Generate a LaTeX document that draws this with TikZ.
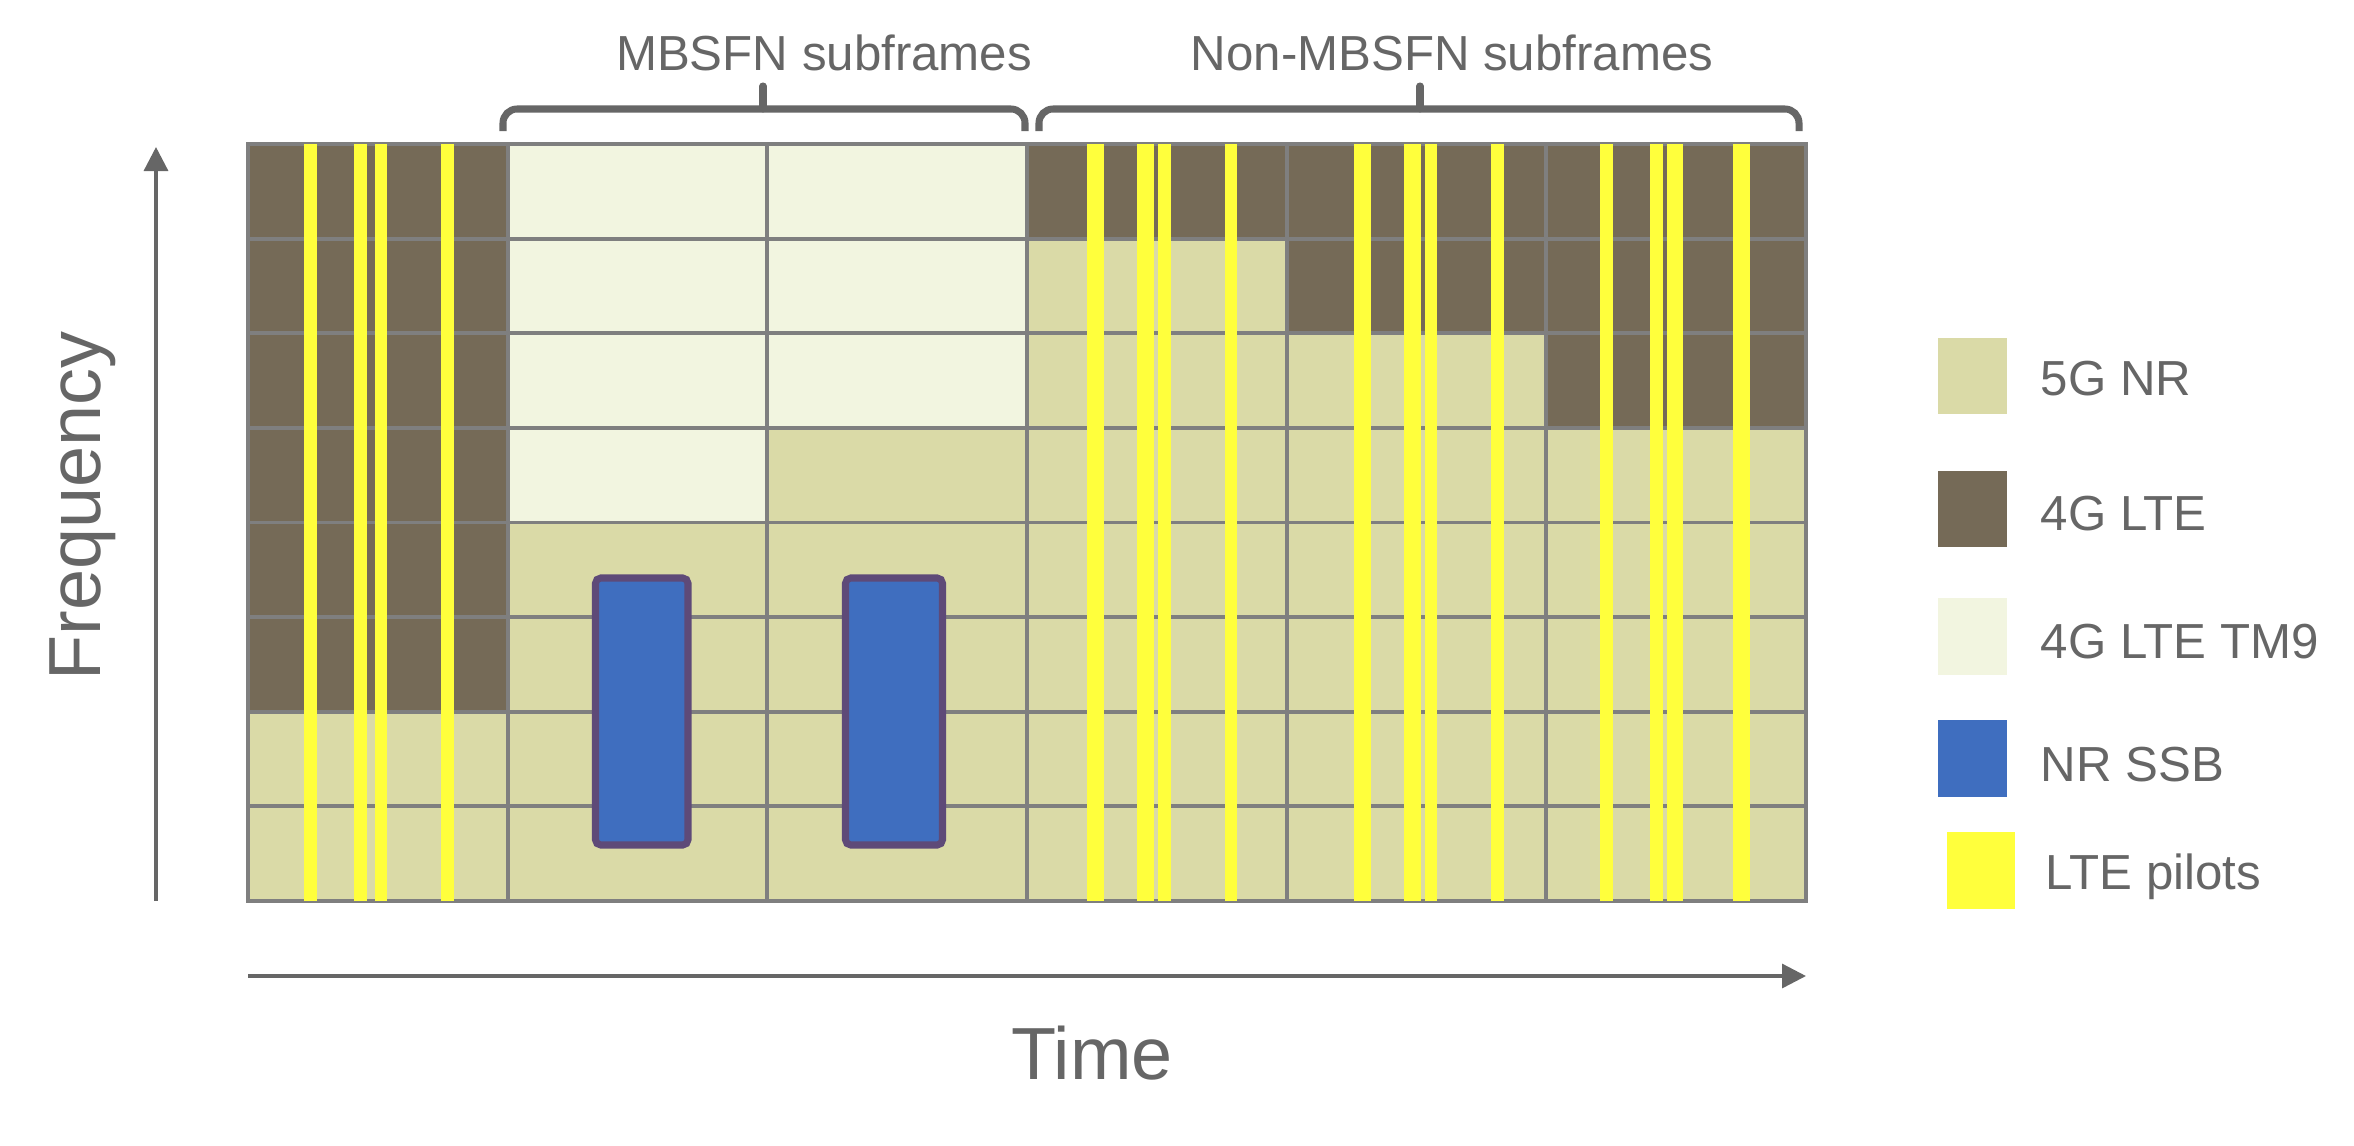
\documentclass[tikz,border=0pt]{standalone}
\usepackage{fontspec}
\setmainfont{Liberation Sans}
\usetikzlibrary{arrows.meta}
\definecolor{nrgreen}{HTML}{DADAA7}
\definecolor{ltebrown}{HTML}{756A57}
\definecolor{tmnine}{HTML}{F2F5E0}
\definecolor{ssbblue}{HTML}{3F6EBF}
\definecolor{ssbedge}{HTML}{5E4A78}
\definecolor{pilotyellow}{HTML}{FFFF3C}
\definecolor{gridgray}{HTML}{7F7F7F}
\definecolor{txtgray}{HTML}{666666}

\begin{document}
\begin{tikzpicture}[x=0.01cm, y=-0.01cm, every node/.style={text=txtgray, inner sep=0pt}]
\tikzset{
  gridline/.style={draw=gridgray, line width=1.1pt},
  pilot/.style={fill=pilotyellow},
  ssbblock/.style={draw=ssbedge, fill=ssbblue, line width=2pt, rounded corners=1.5pt},
  keybox/.style={minimum width=0.69cm, minimum height=0.76cm},
  keytext/.style={anchor=base west, font=\fontsize{14}{17}\selectfont},
  bracetext/.style={anchor=base, font=\fontsize{14}{17}\selectfont},
  axistext/.style={font=\fontsize{21}{25}\selectfont},
  bracket/.style={draw=txtgray, line width=2pt, rounded corners=4pt},
  axis/.style={draw=txtgray, line width=0.95pt, -{Triangle[length=0.24cm, width=0.24cm]}}
}
\useasboundingbox (0,0) rectangle (2354,1145);

% Resource grid (6 subframes x 8 bands)
\fill[nrgreen] (248,144) rectangle (1806,901);
\fill[ltebrown] (248,144) rectangle (507.67,711.75);
\fill[tmnine] (507.67,144) rectangle (767.33,522.5);
\fill[tmnine] (767.33,144) rectangle (1027,427.88);
\fill[ltebrown] (1027,144) rectangle (1286.67,238.63);
\fill[ltebrown] (1286.67,144) rectangle (1546.33,333.25);
\fill[ltebrown] (1546.33,144) rectangle (1806,427.88);

\foreach \c in {1,...,5}
  \draw[gridline] ({248+259.667*\c},144) -- ({248+259.667*\c},901);
\foreach \r in {1,...,7}
  \draw[gridline] (248,{144+94.625*\r}) -- (1806,{144+94.625*\r});
\draw[gridline] (248,144) rectangle (1806,901);

% LTE pilots
\foreach \a/\b in {304/317, 354/367, 375/387, 441/454,
                   1087/1104, 1137/1154, 1158/1171, 1225/1237,
                   1354/1371, 1404/1421, 1425/1437, 1491/1504,
                   1600/1613, 1650/1663, 1667/1683, 1733/1750}
  \fill[pilot] (\a,144) rectangle (\b,901);

% NR SSB
\draw[ssbblock] (595.5,578) rectangle (688,845);
\draw[ssbblock] (845.5,578) rectangle (942.5,845);

% Brackets
\draw[bracket] (503,131) -- (503,109) -- (1025,109) -- (1025,131);
\draw[draw=txtgray, line width=2pt, line cap=round] (763,109) -- (763,86);
\node[bracetext] (mbsfn_lbl) at (824,70) {MBSFN subframes};

\draw[bracket] (1039,131) -- (1039,109) -- (1799,109) -- (1799,131);
\draw[draw=txtgray, line width=2pt, line cap=round] (1420,109) -- (1420,86);
\node[bracetext] (nonmbsfn_lbl) at (1452,70) {Non-MBSFN subframes};

% Axes
\coordinate (f_start) at (156,901);
\coordinate (f_end) at (156,147);
\coordinate (t_start) at (248,976);
\coordinate (t_end) at (1806,976);
\draw[axis] (f_start) -- (f_end);
\draw[axis] (t_start) -- (t_end);
\node[axistext, rotate=90] (freq_lbl) at (83,506) {Frequency};
\node[axistext, anchor=base] (time_lbl) at (1092,1079) {Time};

% Legend
\node[keybox, fill=nrgreen] (key_nr) at (1972.5,376) {};
\node[keybox, fill=ltebrown] (key_lte) at (1972.5,509) {};
\node[keybox, fill=tmnine] (key_tm9) at (1972.5,636.5) {};
\node[keybox, fill=ssbblue] (key_ssb) at (1972.5,758.5) {};
\node[keybox, fill=pilotyellow, minimum width=0.68cm] (key_pilot) at (1981,870.5) {};

\node[keytext] (lbl_nr) at (2040,395) {5G NR};
\node[keytext] (lbl_lte) at (2040,530) {4G LTE};
\node[keytext] (lbl_tm9) at (2040,658) {4G LTE TM9};
\node[keytext] (lbl_ssb) at (2040,781) {NR SSB};
\node[keytext] (lbl_pilot) at (2045,889) {LTE pilots};

\end{tikzpicture}
\end{document}
